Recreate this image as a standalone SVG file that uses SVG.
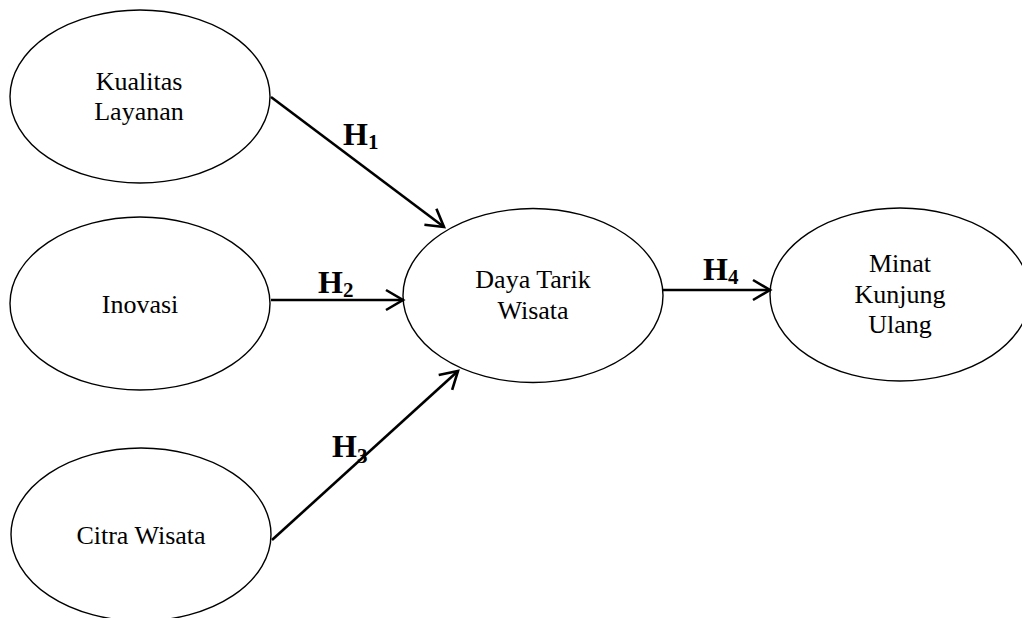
<svg xmlns="http://www.w3.org/2000/svg" width="1022" height="618" viewBox="0 0 1022 618">
<style>
.node ellipse{fill:#fff;stroke:#000;stroke-width:1.4}
.node text{font-family:"Liberation Serif","Times New Roman",serif;font-size:26px;fill:#000;text-anchor:middle}
.conn line{stroke:#000;stroke-width:2.6;marker-end:url(#arr)}
.lbl{font-family:"Liberation Serif","Times New Roman",serif;font-weight:bold;font-size:32px;fill:#000}
.sub{font-size:21px}
</style>
<defs>
<marker id="arr" markerUnits="userSpaceOnUse" markerWidth="26" markerHeight="26" viewBox="-22 -13 26 26" refX="0" refY="0" orient="auto">
<path d="M-17,-10 L0,0 L-17,10" fill="none" stroke="#000" stroke-width="2.6"/>
</marker>
</defs>
<rect width="1022" height="618" fill="#fff"/>
<g id="kualitas" class="node"><ellipse cx="140" cy="96.5" rx="130" ry="86.5"/><text x="139" y="90">Kualitas</text><text x="139" y="120">Layanan</text></g>
<g id="inovasi" class="node"><ellipse cx="140" cy="303.5" rx="130" ry="86.5"/><text x="140" y="313">Inovasi</text></g>
<g id="citra" class="node"><ellipse cx="141" cy="534.5" rx="130" ry="86.5"/><text x="141" y="544">Citra Wisata</text></g>
<g id="daya" class="node"><ellipse cx="533" cy="295.5" rx="130" ry="87"/><text x="533" y="288">Daya Tarik</text><text x="533" y="319">Wisata</text></g>
<g id="minat" class="node"><ellipse cx="900" cy="294.5" rx="130" ry="86.5"/><text x="900" y="272">Minat</text><text x="900" y="303">Kunjung</text><text x="900" y="333">Ulang</text></g>
<g id="connectors" class="conn">
<line x1="271" y1="97" x2="444" y2="227"/>
<line x1="271" y1="300" x2="403" y2="300"/>
<line x1="272" y1="540" x2="458" y2="371"/>
<line x1="663" y1="290" x2="770" y2="290"/>
</g>
<g id="labels">
<text class="lbl" x="343" y="145">H<tspan class="sub" dy="4">1</tspan></text>
<text class="lbl" x="318" y="293">H<tspan class="sub" dy="4">2</tspan></text>
<text class="lbl" x="332" y="457">H<tspan class="sub" dy="6">3</tspan></text>
<text class="lbl" x="703" y="280">H<tspan class="sub" dy="4">4</tspan></text>
</g>
</svg>
